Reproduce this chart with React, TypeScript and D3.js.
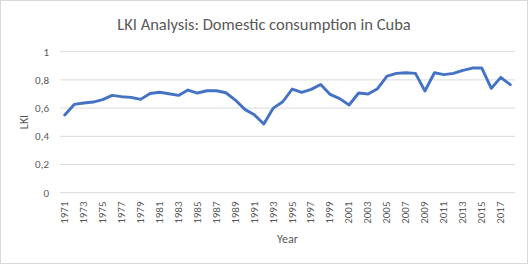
import React from "react";
import * as d3 from "d3";

const years: number[] = [
  1971, 1972, 1973, 1974, 1975, 1976, 1977, 1978, 1979, 1980, 1981, 1982,
  1983, 1984, 1985, 1986, 1987, 1988, 1989, 1990, 1991, 1992, 1993, 1994,
  1995, 1996, 1997, 1998, 1999, 2000, 2001, 2002, 2003, 2004, 2005, 2006,
  2007, 2008, 2009, 2010, 2011, 2012, 2013, 2014, 2015, 2016, 2017, 2018,
];
const lki: number[] = [
  0.551, 0.626, 0.636, 0.643, 0.66, 0.69, 0.681, 0.676, 0.662, 0.704, 0.712, 0.702,
  0.69, 0.728, 0.707, 0.723, 0.723, 0.709, 0.657, 0.591, 0.553, 0.487, 0.6, 0.645,
  0.735, 0.712, 0.733, 0.768, 0.697, 0.667, 0.622, 0.707, 0.7, 0.738, 0.827, 0.846,
  0.851, 0.846, 0.721, 0.851, 0.837, 0.846, 0.868, 0.884, 0.884, 0.74, 0.818, 0.766,
];
const yTicks: number[] = [0, 0.2, 0.4, 0.6, 0.8, 1];
const title = "LKI Analysis: Domestic consumption in Cuba";
const xTitle = "Year";
const yTitle = "LKI";

const W = 529;
const H = 265;
const left = 60;
const right = 515;
const top = 51.7;
const bottom = 192.7;
const font = "Calibri, Carlito, 'Open Sans', sans-serif";
const textColor = "#595959";

export default function App() {
  const x = d3
    .scaleBand<number>()
    .domain(years)
    .range([left, right]);
  const y = d3.scaleLinear().domain([0, 1]).range([bottom, top]);
  const line = d3
    .line<number>()
    .x((_, i) => (x(years[i]) as number) + x.bandwidth() / 2)
    .y((d) => y(d));
  const fmt = (v: number) => (v === 0 || v === 1 ? String(v) : v.toFixed(1).replace(".", ","));

  return (
    <svg
      width={W}
      height={H}
      style={{ position: "absolute", left: 0, top: 0, background: "#fff" }}
      fontFamily={font}
    >
      <rect x={0.5} y={0.5} width={527} height={263} fill="#fff" stroke="#d9d9d9" />
      <text x={264} y={29.5} textAnchor="middle" fontSize={16.5} fill={textColor}>
        {title}
      </text>
      {yTicks.map((t) => (
        <g key={t}>
          <line x1={left} x2={right} y1={y(t)} y2={y(t)} stroke="#d9d9d9" strokeWidth={1} />
          <text x={49} y={y(t)} dy="0.35em" textAnchor="end" fontSize={11} fill={textColor}>
            {fmt(t)}
          </text>
        </g>
      ))}
      {years
        .filter((_, i) => i % 2 === 0)
        .map((yr) => {
          const cx = (x(yr) as number) + x.bandwidth() / 2;
          return (
            <text
              key={yr}
              transform={`translate(${cx + 3.3},201.5) rotate(-90)`}
              textAnchor="end"
              fontSize={11}
              fill={textColor}
            >
              {yr}
            </text>
          );
        })}
      <path d={line(lki) || ""} fill="none" stroke="#4472C4" strokeWidth={2.9} strokeLinejoin="round" strokeLinecap="round" />
      <text x={(left + right) / 2} y={243} textAnchor="middle" fontSize={12} fill={textColor}>
        {xTitle}
      </text>
      <text
        transform={`translate(28,122) rotate(-90)`}
        textAnchor="middle"
        fontSize={12}
        fill={textColor}
      >
        {yTitle}
      </text>
    </svg>
  );
}
